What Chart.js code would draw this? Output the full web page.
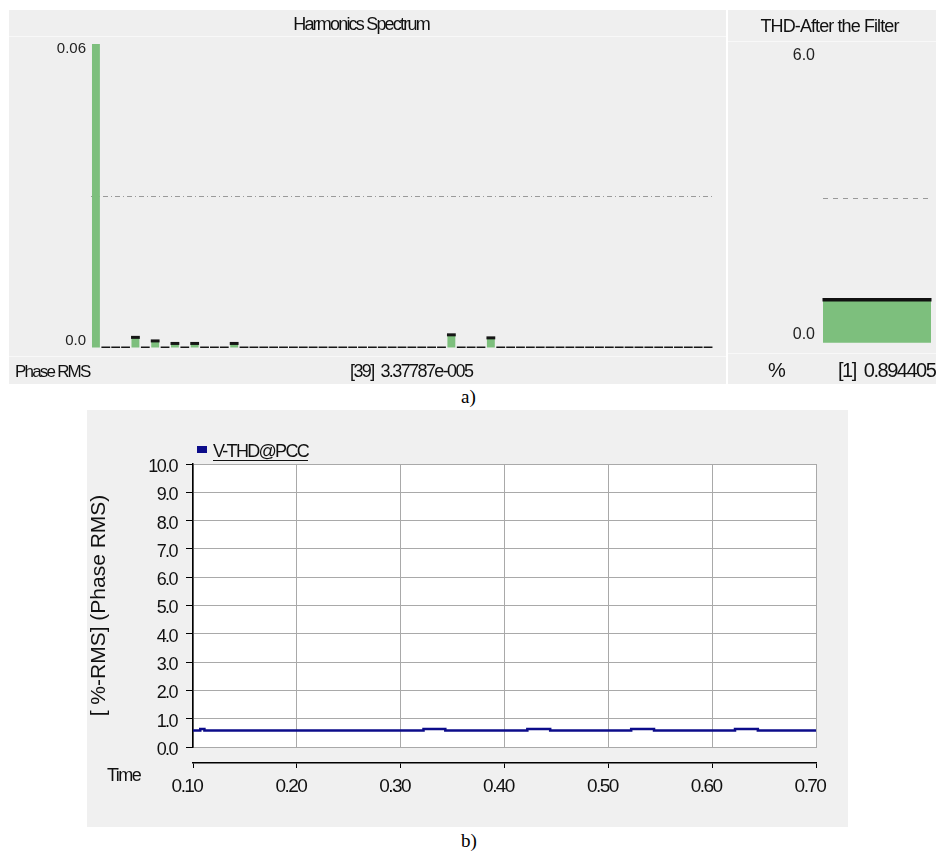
<!DOCTYPE html>
<html><head><meta charset="utf-8">
<script src="https://cdn.jsdelivr.net/npm/chart.js@4.4.1/dist/chart.umd.min.js"></script>
<style>
html,body{margin:0;padding:0;background:#fff;width:936px;height:853px;overflow:hidden;}
.panel{position:absolute;background:#efefef;}
canvas{display:block;}
.cap{position:absolute;font-family:"Liberation Serif","Times New Roman",serif;font-size:19px;color:#000;line-height:22px;}
</style></head><body>
<div class="panel" style="left:9px;top:10px;width:717px;height:374px"><canvas id="c1" width="717" height="374"></canvas></div>
<div class="panel" style="left:728px;top:10px;width:208px;height:374px"><canvas id="c2" width="208" height="374"></canvas></div>
<div class="cap" style="left:461px;top:386px">a)</div>
<div class="panel" style="left:87px;top:410px;width:761px;height:417px;background:#f0f0f0"><canvas id="c3" width="761" height="417"></canvas></div>
<div class="cap" style="left:461px;top:830px">b)</div>
<script>
// ---------- data ----------
const harmonicOrders = [1,2,3,4,5,6,7,8,9,10,11,12,13,14,15,16,17,18,19,20,21,22,23,24,25,26,27,28,29,30,31,32,33,34,35,36,37,38,39,40,41,42,43,44,45,46,47,48,49,50,51,52,53,54,55,56,57,58,59,60,61,62,63];
const harmonicMagnitudes = [0.0605,0,0,0,0.0021,0,0.0014,0,0.0009,0,0.0009,0,0,0,0.0009,0,0,0,0,0,0,0,0,0,0,0,0,0,0,0,0,0,0,0,0,0,0.0026,0,0,0,0.0020,0,0,0,0,0,0,0,0,0,0,0,0,0,0,0,0,0,0,0,0,0,0];
const spectrumTitle = 'Harmonics Spectrum';
const spectrumYTickLabels = ['0.0', '', '0.06'];
const spectrumFooterLeft = 'Phase RMS';
const spectrumFooterRight = '[39]  3.37787e-005';

const thdCategories = ['THD'];
const thdValues = [0.894405];
const thdTitle = 'THD-After the Filter';
const thdYTickLabels = ['0.0', '', '6.0'];
const thdFooterUnit = '%';
const thdFooterValue = '[1]  0.894405';

const timeSeconds = [0.100, 0.107, 0.111, 0.322, 0.343, 0.422, 0.444, 0.522, 0.544, 0.622, 0.644, 0.700];
const vthdPercent = [0.58, 0.64, 0.58, 0.64, 0.58, 0.64, 0.58, 0.64, 0.58, 0.64, 0.58, 0.58];
const vthdLabel = 'V-THD@PCC';
const yAxisTitle = '[ %-RMS] (Phase RMS)';
const xAxisCaption = 'Time';

// ---------- styles ----------
const REG = '"Liberation Sans", Arial, sans-serif';
Chart.defaults.font.family = REG;
const GREEN = '#7dbf7d';
const NAVY = '#0c0c8a';

// letter spacing: "early" = before datasets (titles), "late" = after datasets (tick labels, z:1)
const panelDecor = {
  id: 'panelDecor',
  beforeDraw(chart, args, o) {
    const ctx = chart.ctx;
    ctx.letterSpacing = o.earlySpacing || '0px';
    if (o.plotBg) {
      const a = chart.chartArea;
      ctx.save(); ctx.fillStyle = o.plotBg; ctx.fillRect(a.left, a.top, a.right - a.left, a.bottom - a.top); ctx.restore();
    }
    (o.rules || []).forEach(y => {
      ctx.save(); ctx.strokeStyle = '#f8f8f8'; ctx.lineWidth = 1;
      ctx.beginPath(); ctx.moveTo(0, y + 0.5); ctx.lineTo(chart.width, y + 0.5); ctx.stroke(); ctx.restore();
    });
  },
  afterDatasetsDraw(chart, args, o) {
    chart.ctx.letterSpacing = o.lateSpacing || '0px';
  },
  afterDraw(chart, args, o) {
    const ctx = chart.ctx;
    (o.texts || []).forEach(t => {
      ctx.save();
      ctx.letterSpacing = t.spacing || '0px';
      ctx.font = (t.size || 18) + 'px ' + REG;
      ctx.fillStyle = t.color || '#111';
      ctx.textAlign = 'left'; ctx.textBaseline = 'middle';
      ctx.fillText(t.text, t.x, t.y);
      ctx.restore();
    });
    if (o.legend) {
      const ds = chart.data.datasets[0];
      const L = o.legend;
      ctx.save();
      ctx.fillStyle = ds.borderColor;
      ctx.fillRect(L.x, L.y, 10, 7);
      ctx.letterSpacing = '-1.7px';
      ctx.font = '18px ' + REG;
      ctx.fillStyle = '#111'; ctx.textAlign = 'left'; ctx.textBaseline = 'middle';
      const tx = L.x + 16, ty = L.y + 6;
      ctx.fillText(ds.label, tx, ty);
      const w = ctx.measureText(ds.label).width;
      ctx.strokeStyle = '#111'; ctx.lineWidth = 1;
      ctx.beginPath(); ctx.moveTo(tx, ty + 8.5); ctx.lineTo(tx + w, ty + 8.5); ctx.stroke();
      ctx.restore();
    }
  }
};

function edgeLabelFont(size, lhBottom, lhTop) {
  return (c) => ({ family: REG, size: size, lineHeight: (c.index === 0 ? lhBottom : lhTop) + 'px' });
}
function edgeLabel(labels) {
  return (v, i, ticks) => {
    if (i === 0) return [labels[0], ''];
    if (i === ticks.length - 1) return ['', labels[labels.length - 1]];
    return labels[i] || '';
  };
}

// ---------- a) Harmonics Spectrum ----------
new Chart(document.getElementById('c1'), {
  type: 'bar',
  data: {
    labels: harmonicOrders,
    datasets: [
      { type: 'line', data: harmonicMagnitudes, showLine: false, pointStyle: 'line', pointRadius: 4.4, pointHoverRadius: 4.4,
        pointBorderWidth: 3, pointBorderColor: '#161616', pointBackgroundColor: '#161616', clip: 0, order: 0 },
      { type: 'bar', data: harmonicMagnitudes, backgroundColor: GREEN, borderWidth: 0, barPercentage: 0.8, categoryPercentage: 1, order: 1 }
    ]
  },
  options: {
    responsive: false, animation: false, events: [],
    layout: { padding: { left: 0, right: 13, top: 0, bottom: 36 } },
    plugins: {
      legend: { display: false }, tooltip: { enabled: false },
      title: { display: true, text: spectrumTitle, color: '#111', font: { family: REG, size: 18, weight: 'normal' }, padding: { top: 4.7, bottom: 7.7 } },
      panelDecor: { earlySpacing: '-1.8px', lateSpacing: '0px', rules: [26, 346],
        texts: [ { text: spectrumFooterLeft, x: 6, y: 362, size: 17, spacing: '-1.8px' }, { text: spectrumFooterRight, x: 341, y: 362, size: 18, spacing: '-1.6px' } ] }
    },
    scales: {
      x: { display: false },
      y: { min: 0, max: 0.06,
        ticks: { z: 1, stepSize: 0.03, callback: edgeLabel(spectrumYTickLabels), font: edgeLabelFont(15, 14, 9), color: '#222', padding: 5 },
        grid: { drawTicks: false, lineWidth: 1, color: (c) => c.index === 1 ? '#9a9a9a' : 'rgba(0,0,0,0)' },
        border: { display: false, dash: [5, 3, 1, 3] },
        afterFit(s) { s.width = 82; } }
    }
  },
  plugins: [panelDecor]
});

// ---------- a) THD after the filter ----------
new Chart(document.getElementById('c2'), {
  type: 'bar',
  data: {
    labels: thdCategories,
    datasets: [
      { type: 'line', data: thdValues, showLine: false, pointStyle: 'line',
        pointRadius: (c) => { const a = c.chart.chartArea; return a ? (a.right - a.left) / 2 + 0.5 : 0; },
        pointBorderWidth: 3.5, pointBorderColor: '#111', pointBackgroundColor: '#111', order: 0 },
      { type: 'bar', data: thdValues, backgroundColor: GREEN, borderWidth: 0, barPercentage: 1, categoryPercentage: 1, order: 1 }
    ]
  },
  options: {
    responsive: false, animation: false, events: [],
    layout: { padding: { left: 0, right: 5, top: 0, bottom: 41 } },
    plugins: {
      legend: { display: false }, tooltip: { enabled: false },
      title: { display: true, text: thdTitle, color: '#111', font: { family: REG, size: 18, weight: 'normal' }, padding: { top: 6.2, bottom: 15.6 } },
      panelDecor: { earlySpacing: '-0.9px', lateSpacing: '0px', rules: [31, 343],
        texts: [ { text: thdFooterUnit, x: 40, y: 361, size: 20 }, { text: thdFooterValue, x: 110, y: 361, size: 20, spacing: '-1.5px' } ] }
    },
    scales: {
      x: { display: false },
      y: { min: 0, max: 6,
        ticks: { z: 1, stepSize: 3, callback: edgeLabel(thdYTickLabels), font: edgeLabelFont(16, 16, 4), color: '#222', padding: 8 },
        grid: { drawTicks: false, lineWidth: 1, color: (c) => c.index === 1 ? '#9a9a9a' : 'rgba(0,0,0,0)' },
        border: { display: false, dash: [5, 5] },
        afterFit(s) { s.width = 95; } }
    }
  },
  plugins: [panelDecor]
});

// ---------- b) V-THD@PCC over time ----------
new Chart(document.getElementById('c3'), {
  type: 'line',
  data: {
    datasets: [{
      label: vthdLabel,
      data: timeSeconds.map((t, i) => ({ x: t, y: vthdPercent[i] })),
      borderColor: NAVY, backgroundColor: NAVY, borderWidth: 2.5, pointRadius: 0, stepped: 'before', fill: false
    }]
  },
  options: {
    responsive: false, animation: false, events: [],
    layout: { padding: { left: 0, right: 32, top: 54, bottom: 0 } },
    plugins: {
      legend: { display: false }, tooltip: { enabled: false },
      panelDecor: { earlySpacing: '0px', lateSpacing: '-1.55px', plotBg: '#ffffff', legend: { x: 110, y: 36 },
        texts: [ { text: xAxisCaption, x: 20, y: 366, size: 18, spacing: '-1.5px' } ] }
    },
    scales: {
      x: { type: 'linear', position: 'bottom', min: 0.1, max: 0.7,
        ticks: { display: false, stepSize: 0.1 },
        grid: { color: '#a9a9a9', drawTicks: false, lineWidth: 1 },
        border: { color: '#a9a9a9', width: 1 },
        afterFit(s) { s.height = 16; } },
      x2: { type: 'linear', position: 'bottom', min: 0.1, max: 0.7,
        ticks: { z: 1, stepSize: 0.1, callback: (v) => v.toFixed(2), font: { family: REG, size: 19 }, color: '#111', padding: 7, labelOffset: -6, maxRotation: 0, autoSkip: false },
        grid: { drawOnChartArea: false, drawTicks: true, tickLength: 5, tickColor: '#000', color: '#000' },
        border: { color: '#000', width: 1.5 },
        afterFit(s) { s.height = 64; } },
      y: { min: 0, max: 10,
        ticks: { z: 1, stepSize: 1, callback: (v) => v.toFixed(1), font: { family: REG, size: 18 }, color: '#111', padding: 9, labelOffset: 3 },
        grid: { color: '#a9a9a9', tickColor: '#000', tickLength: 7, drawTicks: true, lineWidth: 1 },
        border: { color: '#000', width: 1.5 },
        title: { display: true, text: yAxisTitle, color: '#111', font: { family: REG, size: 21 }, padding: 0 },
        afterFit(s) { s.width = 106; } }
    }
  },
  plugins: [panelDecor]
});
</script>
</body></html>
